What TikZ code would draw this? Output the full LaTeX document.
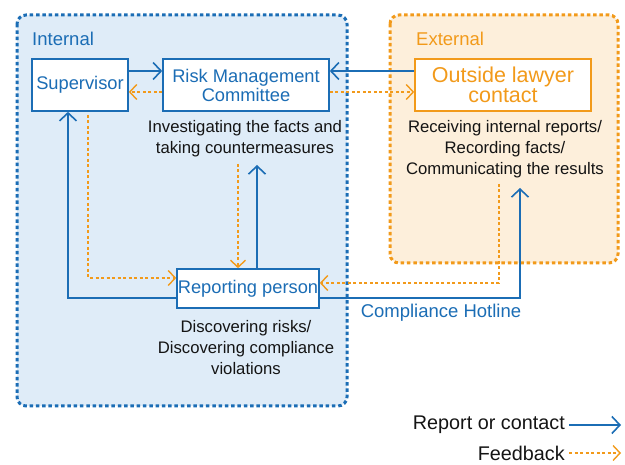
\documentclass[tikz,border=0pt]{standalone}
\usepackage{fontspec}
\setmainfont{Liberation Sans}
\usetikzlibrary{arrows.meta}
\definecolor{cblue}{HTML}{1B6DB5}
\definecolor{corange}{HTML}{F29A1A}
\definecolor{lblue}{HTML}{DFECF8}
\definecolor{lorange}{HTML}{FDEFDB}
\tikzset{
  region/.style={line width=3pt, dash pattern=on 3.5pt off 2.8pt, rounded corners=9pt},
  bluebox/.style={draw=cblue, line width=1.6pt, fill=white, text=cblue, inner sep=0pt, align=center, font=\fontsize{18.3}{19}\selectfont},
  orbox/.style={draw=corange, line width=1.6pt, fill=white, text=corange, inner sep=0pt, align=center, font=\fontsize{21.5}{20}\selectfont},
  desc/.style={align=center, text=black!92, font=\fontsize{16.7}{21}\selectfont, inner sep=0pt},
  rep/.style={draw=cblue, line width=1.6pt, -{Straight Barb[length=8pt,width=17pt,line width=1.6pt]}},
  fb/.style={draw=corange, line width=1.4pt, dash pattern=on 3pt off 2.5pt, -{Straight Barb[length=7pt,width=15pt,line width=1.4pt]}},
}
\begin{document}
\begin{tikzpicture}[x=1pt,y=-1pt]
\useasboundingbox (0,0) rectangle (625,465);
% regions
\draw[region, draw=cblue, fill=lblue] (17,15) rectangle (347,406);
\draw[region, draw=corange, fill=lorange] (390,15) rectangle (618,263);
\node[anchor=west, text=cblue, font=\fontsize{18.5}{18}\selectfont, inner sep=0pt] (lint) at (32,39) {Internal};
\node[anchor=west, text=corange, font=\fontsize{18.5}{18}\selectfont, inner sep=0pt] (lext) at (416,39) {External};
% nodes
\node[bluebox, minimum width=96pt, minimum height=52pt] (sup) at (80,85) {Supervisor};
\node[bluebox, minimum width=166pt, minimum height=52pt] (rmc) at (246,85) {Risk Management\\Committee};
\node[orbox, minimum width=176pt, minimum height=52pt] (law) at (503,85) {Outside lawyer\\contact};
\node[bluebox, minimum width=142pt, minimum height=39pt] (rp) at (248,288.5) {Reporting person};
% descriptions
\node[desc] (drmc) at (245,138.5) {Investigating the facts and\\taking countermeasures};
\node[desc] (dlaw) at (505,149) {Receiving internal reports/\\Recording facts/\\Communicating the results};
\node[desc] (drp) at (246,347.5) {Discovering risks/\\Discovering compliance\\violations};
\node[text=cblue, font=\fontsize{18.5}{18}\selectfont, inner sep=0pt] (hot) at (441,313) {Compliance Hotline};
% coordinates
\coordinate (a1) at (68,298);
\coordinate (b1) at (88,115);
\coordinate (b2) at (88,278);
\coordinate (c1) at (238,164);
\coordinate (d1) at (257,165);
\coordinate (e1) at (499,184);
\coordinate (e2) at (499,283);
\coordinate (f1) at (520,298);
\coordinate (f2) at (520,188);
% connectors
\draw[rep] (sup.east |- 0,71) -- (rmc.west |- 0,71);
\draw[fb] (rmc.west |- 0,92) -- (sup.east |- 0,92);
\draw[rep] (law.west |- 0,71) -- (rmc.east |- 0,71);
\draw[fb] (rmc.east |- 0,92) -- (law.west |- 0,92);
\draw[rep] (rp.west |- a1) -- (a1) -- (a1 |- sup.south);
\draw[fb] (b1) -- (b2) -- (rp.west |- b2);
\draw[fb] (c1) -- (c1 |- rp.north);
\draw[rep] (d1 |- rp.north) -- (d1);
\draw[fb] (e1) -- (e2) -- (rp.east |- e2);
\draw[rep, line width=2.6pt] (rp.east |- f1) -- (f1) -- (f2);
% legend
\node[anchor=east, text=black!92, font=\fontsize{19.8}{19}\selectfont, inner sep=0pt] (l1) at (565,425) {Report or contact};
\node[anchor=east, text=black!92, font=\fontsize{19.8}{19}\selectfont, inner sep=0pt] (l2) at (565,453) {Feedback};
\coordinate (l1e) at (621,425);
\coordinate (l2e) at (621,453);
\draw[rep, line width=2pt] ([xshift=4pt]l1.east) -- (l1e);
\draw[fb, line width=1.8pt] ([xshift=4pt]l2.east) -- (l2e);
\end{tikzpicture}
\end{document}
